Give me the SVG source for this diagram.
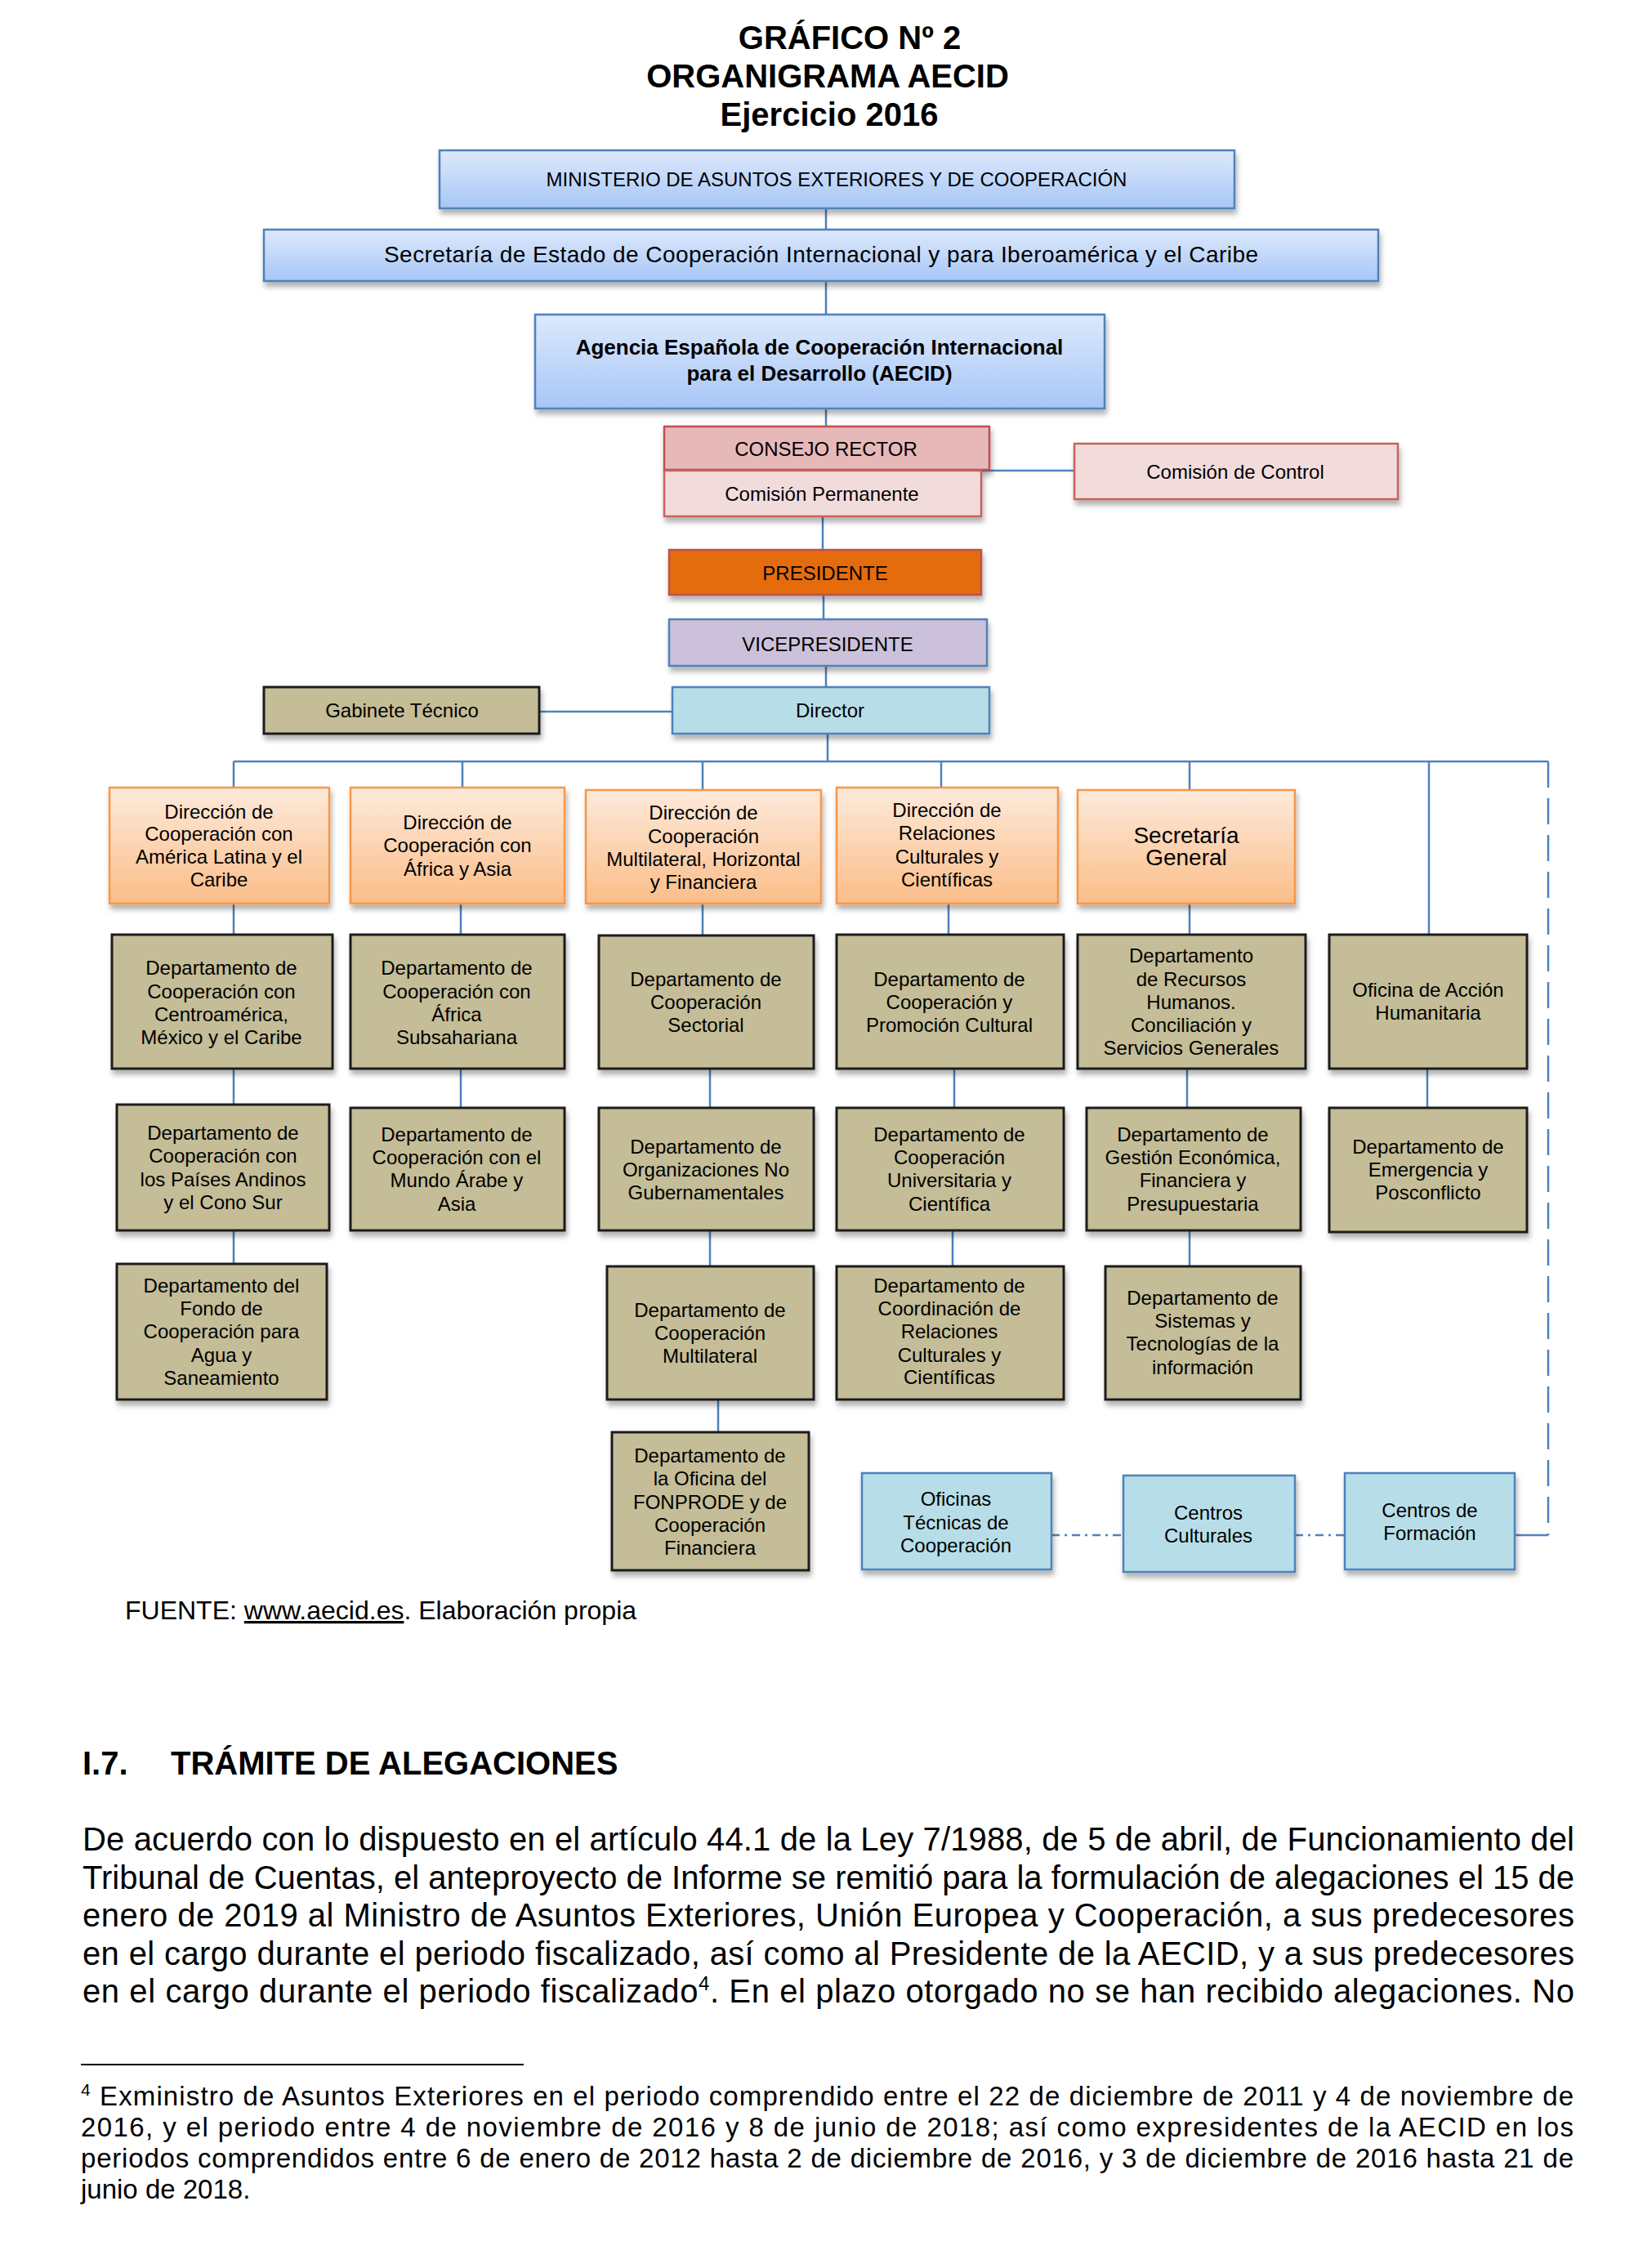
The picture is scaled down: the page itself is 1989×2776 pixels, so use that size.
<svg xmlns="http://www.w3.org/2000/svg" width="1989" height="2776" viewBox="0 0 1989 2776">
<defs>
<linearGradient id="gBlue" x1="0" y1="0" x2="0" y2="1"><stop offset="0" stop-color="#dde9fc"/><stop offset="1" stop-color="#a7c6f6"/></linearGradient>
<linearGradient id="gPeach" x1="0" y1="0" x2="0" y2="1"><stop offset="0" stop-color="#fdeadb"/><stop offset="1" stop-color="#fbbd88"/></linearGradient>
<filter id="sh" x="-10%" y="-10%" width="130%" height="140%"><feDropShadow dx="2" dy="6" stdDeviation="3" flood-color="#000" flood-opacity="0.3"/></filter>
</defs>
<style>
.t{font-family:"Liberation Sans",Arial,sans-serif;font-size:24px;text-anchor:middle;fill:#000}
.t28{font-family:"Liberation Sans",Arial,sans-serif;font-size:28px;text-anchor:middle;fill:#000}
.tb{font-family:"Liberation Sans",Arial,sans-serif;font-weight:bold;text-anchor:middle;fill:#000}
.body{font-family:"Liberation Sans",Arial,sans-serif;font-size:40px;fill:#000}
.fn{font-family:"Liberation Sans",Arial,sans-serif;font-size:33px;fill:#000}
.blue{fill:url(#gBlue);stroke:#4f81bd;stroke-width:2.5}
.peach{fill:url(#gPeach);stroke:#f79646;stroke-width:2.5}
.tan{fill:#c4bd97;stroke:#1e1e1e;stroke-width:3}
.cyan{fill:#b7dee8;stroke:#4f81bd;stroke-width:2.5}
.pink{fill:#e6b9b8;stroke:#c0504d;stroke-width:2.5}
.lpink{fill:#f2dcdb;stroke:#c9605d;stroke-width:2.5}
.orange{fill:#e46c0a;stroke:#c0504d;stroke-width:2.5}
.lilac{fill:#ccc1da;stroke:#4f81bd;stroke-width:2.5}
.c{stroke:#4f81bd;stroke-width:2.5;fill:none}
</style>

<!-- Title -->
<g id="title">
<text class="tb" font-size="40" x="1040" y="60">GRÁFICO Nº 2</text>
<text class="tb" font-size="40" x="1013" y="107">ORGANIGRAMA AECID</text>
<text class="tb" font-size="40" x="1015" y="154">Ejercicio 2016</text>
</g>

<!-- Connectors -->
<g id="connectors">
<path class="c" d="M1011 255V281M1011 344V385M1011 500V522M1007 632V673M1008 728V758M1011 815V841"/>
<path class="c" stroke-width="3.5" d="M660 871H823"/>
<path class="c" d="M1201 576H1315"/>
<path class="c" d="M1013 898V932"/>
<path class="c" stroke-width="3" d="M286 932H1895"/>
<path class="c" d="M286 932V964M566 932V964M860 932V967M1152 932V964M1456 932V967M1749 932V1144"/>
<path class="c" d="M286 1106V1144M564 1106V1144M860 1106V1145M1161 1106V1144M1456 1106V1144"/>
<path class="c" d="M286 1308V1352M564 1308V1356M869 1308V1356M1168 1308V1356M1453 1308V1356M1747 1308V1356"/>
<path class="c" d="M286 1506V1547M869 1506V1550M1166 1506V1550M1456 1506V1550M879 1713V1753"/>
<path class="c" stroke-width="4" stroke-dasharray="32 13" d="M1895 932V1879"/>
<path class="c" d="M1854 1879H1895"/>
<path class="c" stroke-dasharray="10 6 3 6" d="M1287 1879H1375M1585 1879H1646"/>
</g>

<g id="ministerio"><rect class="blue" filter="url(#sh)" x="538" y="184" width="973" height="71"/>
<text class="t" x="1024" y="228">MINISTERIO DE ASUNTOS EXTERIORES Y DE COOPERACIÓN</text></g>

<g id="secretaria_estado"><rect class="blue" filter="url(#sh)" x="323" y="281" width="1364" height="63"/>
<text class="t28" x="1005" y="321" textLength="1070" lengthAdjust="spacing">Secretaría de Estado de Cooperación Internacional y para Iberoamérica y el Caribe</text></g>

<g id="aecid"><rect class="blue" filter="url(#sh)" x="655" y="385" width="697" height="115"/>
<text class="tb" font-size="26"><tspan x="1003" y="434">Agencia Española de Cooperación Internacional</tspan><tspan x="1003" y="466">para el Desarrollo (AECID)</tspan></text></g>

<g id="consejo_rector"><rect class="pink" filter="url(#sh)" x="813" y="522" width="398" height="53"/>
<text class="t" x="1011" y="558">CONSEJO RECTOR</text></g>

<g id="comision_permanente"><rect class="lpink" filter="url(#sh)" x="813" y="576" width="388" height="56"/>
<text class="t" x="1006" y="613">Comisión Permanente</text></g>

<g id="comision_control"><rect class="lpink" filter="url(#sh)" x="1315" y="543" width="396" height="68"/>
<text class="t" x="1512" y="586">Comisión de Control</text></g>

<g id="presidente"><rect class="orange" filter="url(#sh)" x="819" y="673" width="382" height="55"/>
<text class="t" x="1010" y="710">PRESIDENTE</text></g>

<g id="vicepresidente"><rect class="lilac" filter="url(#sh)" x="819" y="758" width="389" height="57"/>
<text class="t" x="1013" y="797">VICEPRESIDENTE</text></g>

<g id="director"><rect class="cyan" filter="url(#sh)" x="823" y="841" width="388" height="57"/>
<text class="t" x="1016" y="878">Director</text></g>

<g id="gabinete_tecnico"><rect class="tan" filter="url(#sh)" x="323" y="841" width="337" height="57"/>
<text class="t" x="492" y="878">Gabinete Técnico</text></g>

<g id="dir_america_latina"><rect class="peach" filter="url(#sh)" x="134" y="964" width="269" height="142"/>
<text class="t"><tspan x="268" y="1002">Dirección de</tspan><tspan x="268" y="1029">Cooperación con</tspan><tspan x="268" y="1057">América Latina y el</tspan><tspan x="268" y="1085">Caribe</tspan></text></g>

<g id="dir_africa_asia"><rect class="peach" filter="url(#sh)" x="429" y="964" width="262" height="142"/>
<text class="t"><tspan x="560" y="1015">Dirección de</tspan><tspan x="560" y="1043">Cooperación con</tspan><tspan x="560" y="1072">África y Asia</tspan></text></g>

<g id="dir_multilateral"><rect class="peach" filter="url(#sh)" x="717" y="967" width="288" height="139"/>
<text class="t"><tspan x="861" y="1003">Dirección de</tspan><tspan x="861" y="1032">Cooperación</tspan><tspan x="861" y="1060">Multilateral, Horizontal</tspan><tspan x="861" y="1088">y Financiera</tspan></text></g>

<g id="dir_relaciones_culturales"><rect class="peach" filter="url(#sh)" x="1024" y="964" width="271" height="142"/>
<text class="t"><tspan x="1159" y="1000">Dirección de</tspan><tspan x="1159" y="1028">Relaciones</tspan><tspan x="1159" y="1057">Culturales y</tspan><tspan x="1159" y="1085">Científicas</tspan></text></g>

<g id="secretaria_general"><rect class="peach" filter="url(#sh)" x="1319" y="967" width="266" height="139"/>
<text class="t28"><tspan x="1452" y="1032">Secretaría</tspan><tspan x="1452" y="1059">General</tspan></text></g>

<g id="dep_centroamerica"><rect class="tan" filter="url(#sh)" x="137" y="1144" width="270" height="164"/>
<text class="t"><tspan x="271" y="1193">Departamento de</tspan><tspan x="271" y="1222">Cooperación con</tspan><tspan x="271" y="1250">Centroamérica,</tspan><tspan x="271" y="1278">México y el Caribe</tspan></text></g>

<g id="dep_subsahariana"><rect class="tan" filter="url(#sh)" x="429" y="1144" width="262" height="164"/>
<text class="t"><tspan x="559" y="1193">Departamento de</tspan><tspan x="559" y="1222">Cooperación con</tspan><tspan x="559" y="1250">África</tspan><tspan x="559" y="1278">Subsahariana</tspan></text></g>

<g id="dep_sectorial"><rect class="tan" filter="url(#sh)" x="733" y="1145" width="263" height="163"/>
<text class="t"><tspan x="864" y="1207">Departamento de</tspan><tspan x="864" y="1235">Cooperación</tspan><tspan x="864" y="1263">Sectorial</tspan></text></g>

<g id="dep_promocion_cultural"><rect class="tan" filter="url(#sh)" x="1024" y="1144" width="278" height="164"/>
<text class="t"><tspan x="1162" y="1207">Departamento de</tspan><tspan x="1162" y="1235">Cooperación y</tspan><tspan x="1162" y="1263">Promoción Cultural</tspan></text></g>

<g id="dep_rrhh"><rect class="tan" filter="url(#sh)" x="1319" y="1144" width="279" height="164"/>
<text class="t"><tspan x="1458" y="1178">Departamento</tspan><tspan x="1458" y="1207">de Recursos</tspan><tspan x="1458" y="1235">Humanos.</tspan><tspan x="1458" y="1263">Conciliación y</tspan><tspan x="1458" y="1291">Servicios Generales</tspan></text></g>

<g id="oficina_accion_humanitaria"><rect class="tan" filter="url(#sh)" x="1627" y="1144" width="242" height="164"/>
<text class="t"><tspan x="1748" y="1220">Oficina de Acción</tspan><tspan x="1748" y="1248">Humanitaria</tspan></text></g>

<g id="dep_andinos"><rect class="tan" filter="url(#sh)" x="143" y="1352" width="260" height="154"/>
<text class="t"><tspan x="273" y="1395">Departamento de</tspan><tspan x="273" y="1423">Cooperación con</tspan><tspan x="273" y="1452">los Países Andinos</tspan><tspan x="273" y="1480">y el Cono Sur</tspan></text></g>

<g id="dep_mundo_arabe"><rect class="tan" filter="url(#sh)" x="429" y="1356" width="262" height="150"/>
<text class="t"><tspan x="559" y="1397">Departamento de</tspan><tspan x="559" y="1425">Cooperación con el</tspan><tspan x="559" y="1453">Mundo Árabe y</tspan><tspan x="559" y="1482">Asia</tspan></text></g>

<g id="dep_ong"><rect class="tan" filter="url(#sh)" x="733" y="1356" width="263" height="150"/>
<text class="t"><tspan x="864" y="1412">Departamento de</tspan><tspan x="864" y="1440">Organizaciones No</tspan><tspan x="864" y="1468">Gubernamentales</tspan></text></g>

<g id="dep_universitaria"><rect class="tan" filter="url(#sh)" x="1024" y="1356" width="278" height="150"/>
<text class="t"><tspan x="1162" y="1397">Departamento de</tspan><tspan x="1162" y="1425">Cooperación</tspan><tspan x="1162" y="1453">Universitaria y</tspan><tspan x="1162" y="1482">Científica</tspan></text></g>

<g id="dep_gestion_economica"><rect class="tan" filter="url(#sh)" x="1330" y="1356" width="262" height="150"/>
<text class="t"><tspan x="1460" y="1397">Departamento de</tspan><tspan x="1460" y="1425">Gestión Económica,</tspan><tspan x="1460" y="1453">Financiera y</tspan><tspan x="1460" y="1482">Presupuestaria</tspan></text></g>

<g id="dep_emergencia"><rect class="tan" filter="url(#sh)" x="1627" y="1356" width="242" height="152"/>
<text class="t"><tspan x="1748" y="1412">Departamento de</tspan><tspan x="1748" y="1440">Emergencia y</tspan><tspan x="1748" y="1468">Posconflicto</tspan></text></g>

<g id="dep_agua"><rect class="tan" filter="url(#sh)" x="143" y="1547" width="257" height="166"/>
<text class="t"><tspan x="271" y="1582">Departamento del</tspan><tspan x="271" y="1610">Fondo de</tspan><tspan x="271" y="1638">Cooperación para</tspan><tspan x="271" y="1667">Agua y</tspan><tspan x="271" y="1695">Saneamiento</tspan></text></g>

<g id="dep_multilateral"><rect class="tan" filter="url(#sh)" x="743" y="1550" width="253" height="163"/>
<text class="t"><tspan x="869" y="1612">Departamento de</tspan><tspan x="869" y="1640">Cooperación</tspan><tspan x="869" y="1668">Multilateral</tspan></text></g>

<g id="dep_coordinacion"><rect class="tan" filter="url(#sh)" x="1024" y="1550" width="278" height="163"/>
<text class="t"><tspan x="1162" y="1582">Departamento de</tspan><tspan x="1162" y="1610">Coordinación de</tspan><tspan x="1162" y="1638">Relaciones</tspan><tspan x="1162" y="1667">Culturales y</tspan><tspan x="1162" y="1694">Científicas</tspan></text></g>

<g id="dep_sistemas"><rect class="tan" filter="url(#sh)" x="1353" y="1550" width="239" height="163"/>
<text class="t"><tspan x="1472" y="1597">Departamento de</tspan><tspan x="1472" y="1625">Sistemas y</tspan><tspan x="1472" y="1653">Tecnologías de la</tspan><tspan x="1472" y="1682">información</tspan></text></g>

<g id="dep_fonprode"><rect class="tan" filter="url(#sh)" x="749" y="1753" width="241" height="169"/>
<text class="t"><tspan x="869" y="1790">Departamento de</tspan><tspan x="869" y="1818">la Oficina del</tspan><tspan x="869" y="1847">FONPRODE y de</tspan><tspan x="869" y="1875">Cooperación</tspan><tspan x="869" y="1903">Financiera</tspan></text></g>

<g id="oficinas_tecnicas"><rect class="cyan" filter="url(#sh)" x="1055" y="1803" width="232" height="118"/>
<text class="t"><tspan x="1170" y="1843">Oficinas</tspan><tspan x="1170" y="1872">Técnicas de</tspan><tspan x="1170" y="1900">Cooperación</tspan></text></g>

<g id="centros_culturales"><rect class="cyan" filter="url(#sh)" x="1375" y="1806" width="210" height="118"/>
<text class="t"><tspan x="1479" y="1860">Centros</tspan><tspan x="1479" y="1888">Culturales</tspan></text></g>

<g id="centros_formacion"><rect class="cyan" filter="url(#sh)" x="1646" y="1803" width="208" height="118"/>
<text class="t"><tspan x="1750" y="1857">Centros de</tspan><tspan x="1750" y="1885">Formación</tspan></text></g>

<!-- Source -->
<text font-family="Liberation Sans, Arial, sans-serif" font-size="32" x="153" y="1982">FUENTE: <tspan text-decoration="underline">www.aecid.es</tspan>. Elaboración propia</text>

<!-- Section text -->
<text class="body" font-weight="bold" x="101" y="2172">I.7.</text>
<text class="body" font-weight="bold" x="209" y="2172">TRÁMITE DE ALEGACIONES</text>

<text class="body" x="101" y="2265" textLength="1826" lengthAdjust="spacing">De acuerdo con lo dispuesto en el artículo 44.1 de la Ley 7/1988, de 5 de abril, de Funcionamiento del</text>
<text class="body" x="101" y="2312" textLength="1826" lengthAdjust="spacing">Tribunal de Cuentas, el anteproyecto de Informe se remitió para la formulación de alegaciones el 15 de</text>
<text class="body" x="101" y="2358" textLength="1826" lengthAdjust="spacing">enero de 2019 al Ministro de Asuntos Exteriores, Unión Europea y Cooperación, a sus predecesores</text>
<text class="body" x="101" y="2405" textLength="1826" lengthAdjust="spacing">en el cargo durante el periodo fiscalizado, así como al Presidente de la AECID, y a sus predecesores</text>
<text class="body" x="101" y="2451" textLength="1826" lengthAdjust="spacing">en el cargo durante el periodo fiscalizado<tspan font-size="24" dy="-15">4</tspan><tspan dy="15">. En el plazo otorgado no se han recibido alegaciones. No</tspan></text>

<line x1="99" y1="2527" x2="641" y2="2527" stroke="#000" stroke-width="2"/>

<text class="fn" x="99" y="2577" textLength="1827" lengthAdjust="spacing"><tspan font-size="21" dy="-12">4</tspan><tspan dy="12"> Exministro de Asuntos Exteriores en el periodo comprendido entre el 22 de diciembre de 2011 y 4 de noviembre de</tspan></text>
<text class="fn" x="99" y="2615" textLength="1827" lengthAdjust="spacing">2016, y el periodo entre 4 de noviembre de 2016 y 8 de junio de 2018; así como expresidentes de la AECID en los</text>
<text class="fn" x="99" y="2653" textLength="1827" lengthAdjust="spacing">periodos comprendidos entre 6 de enero de 2012 hasta 2 de diciembre de 2016, y 3 de diciembre de 2016 hasta 21 de</text>
<text class="fn" x="99" y="2691">junio de 2018.</text>
</svg>
